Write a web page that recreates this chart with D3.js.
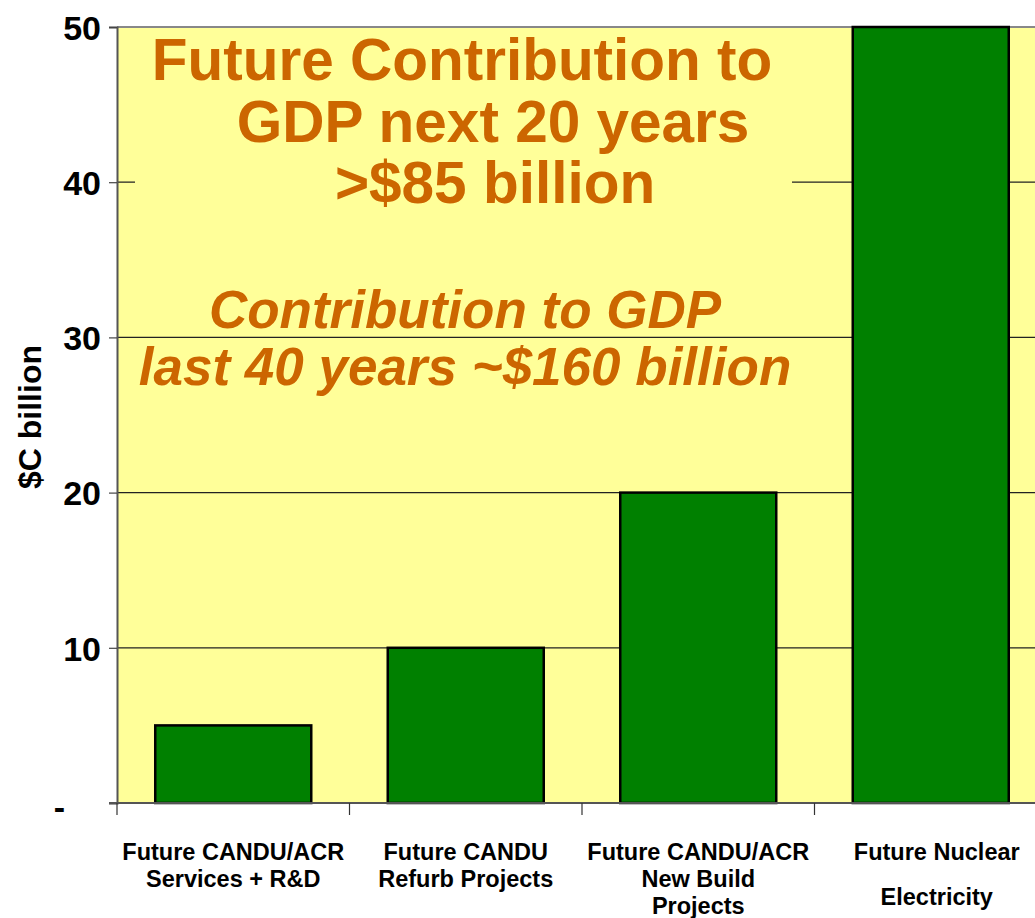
<!DOCTYPE html>
<html>
<head>
<meta charset="utf-8">
<script src="https://cdn.jsdelivr.net/npm/d3@7"></script>
<style>
  body { margin: 0; background: #fff; }
  svg { display: block; font-family: Arial, "Liberation Sans", sans-serif; }
</style>
</head>
<body>
<svg width="1035" height="918"></svg>
<script>
const svg = d3.select('svg');
const width = 1035, height = 918;
const margin = { top: 27, left: 117, bottom: 115 };
const plotRight = 1047;
const innerHeight = height - margin.top - margin.bottom;

// data
const categories = ["Future CANDU/ACR Services + R&D", "Future CANDU Refurb Projects", "Future CANDU/ACR New Build Projects", "Future Nuclear Electricity"];
const categoryLines = [
  ["Future CANDU/ACR", "Services + R&D"],
  ["Future CANDU", "Refurb Projects"],
  ["Future CANDU/ACR", "New Build", "Projects"],
  ["Future Nuclear", "", "Electricity"]
];
const values = [5, 10, 20, 50];
const yTicks = [0, 10, 20, 30, 40, 50];
const titleLines = ["Future Contribution to", "GDP next 20 years", ">$85 billion"];
const noteLines = ["Contribution to GDP", "last 40 years ~$160 billion"];

const x = d3.scaleBand()
  .domain(categories)
  .range([margin.left, plotRight])
  .paddingInner(0.329)
  .paddingOuter(0.1645);
const y = d3.scaleLinear().domain([0, 50]).range([margin.top + innerHeight, margin.top]);

// plot background
svg.append("rect")
  .attr("x", margin.left).attr("y", y(50))
  .attr("width", plotRight - margin.left).attr("height", y(0) - y(50))
  .attr("fill", "#FFFF99");

// gridlines
svg.append("g")
  .selectAll("line")
  .data(yTicks.filter(d => d > 0 && d < 50))
  .enter().append("line")
  .attr("x1", margin.left).attr("x2", plotRight)
  .attr("y1", d => y(d)).attr("y2", d => y(d))
  .attr("stroke", "#222").attr("stroke-width", 1.2);

// top border
svg.append("line")
  .attr("x1", margin.left).attr("x2", plotRight)
  .attr("y1", y(50)).attr("y2", y(50))
  .attr("stroke", "#888").attr("stroke-width", 2);

// title box (covers gridline)
svg.append("rect")
  .attr("x", 135).attr("y", 32).attr("width", 657).attr("height", 182)
  .attr("fill", "#FFFF99");

// bars
svg.append("g")
  .selectAll("rect")
  .data(values)
  .enter().append("rect")
  .attr("x", (d, i) => x(categories[i]))
  .attr("y", d => y(d))
  .attr("width", x.bandwidth())
  .attr("height", d => y(0) - y(d))
  .attr("fill", "#008000")
  .attr("stroke", "#000")
  .attr("stroke-width", 2.5);

// y axis
const yAxis = svg.append("g")
  .attr("transform", `translate(${margin.left},0)`)
  .call(d3.axisLeft(y).tickValues(yTicks).tickSize(8).tickFormat(d => d === 0 ? "-" : d));
yAxis.select(".domain").attr("stroke", "#555").attr("stroke-width", 2);
yAxis.selectAll(".tick line").attr("stroke", "#444").attr("stroke-width", 1.2);
yAxis.selectAll(".tick text")
  .attr("font-size", 34).attr("font-weight", "bold").attr("fill", "#000")
  .attr("x", d => d === 0 ? -52 : -16)
  .attr("dy", d => d === 0 ? "0.45em" : "0.36em");

// x axis line and category ticks
svg.append("line")
  .attr("x1", margin.left - 8).attr("x2", plotRight)
  .attr("y1", y(0)).attr("y2", y(0))
  .attr("stroke", "#555").attr("stroke-width", 2);
svg.append("g")
  .selectAll("line")
  .data(d3.range(categories.length))
  .enter().append("line")
  .attr("x1", i => margin.left + i * x.step()).attr("x2", i => margin.left + i * x.step())
  .attr("y1", y(0)).attr("y2", y(0) + 12)
  .attr("stroke", "#333").attr("stroke-width", 1.2);

// category labels
const catG = svg.append("g")
  .selectAll("text")
  .data(categoryLines)
  .enter().append("text")
  .attr("text-anchor", "middle")
  .attr("font-size", 23.5).attr("font-weight", "bold").attr("fill", "#000");
catG.each(function(lines, i) {
  const cx = x(categories[i]) + x.bandwidth() / 2 + (i === 3 ? 6 : 0);
  let yy = 860;
  lines.forEach((t, j) => {
    if (t !== "") {
      d3.select(this).append("tspan")
        .attr("x", cx).attr("y", i === 3 && j === 2 ? 905 : yy)
        .text(t);
    }
    yy += 27;
  });
});

// y axis title
svg.append("text")
  .attr("transform", "translate(41,417) rotate(-90)")
  .attr("text-anchor", "middle")
  .attr("font-size", 32).attr("font-weight", "bold").attr("fill", "#000")
  .text("$C billion");

// annotation text
const titleX = [462, 493, 495];
const titleY = [80, 142, 203];
svg.append("g")
  .selectAll("text")
  .data(titleLines)
  .enter().append("text")
  .attr("x", (d, i) => titleX[i]).attr("y", (d, i) => titleY[i])
  .attr("text-anchor", "middle")
  .attr("font-size", 58.5).attr("font-weight", "bold").attr("fill", "#CC6600")
  .text(d => d);

svg.append("g")
  .selectAll("text")
  .data(noteLines)
  .enter().append("text")
  .attr("x", 465).attr("y", (d, i) => 328 + i * 57)
  .attr("text-anchor", "middle")
  .attr("font-size", 53).attr("font-weight", "bold").attr("font-style", "italic").attr("fill", "#CC6600")
  .text(d => d);
</script>
</body>
</html>
